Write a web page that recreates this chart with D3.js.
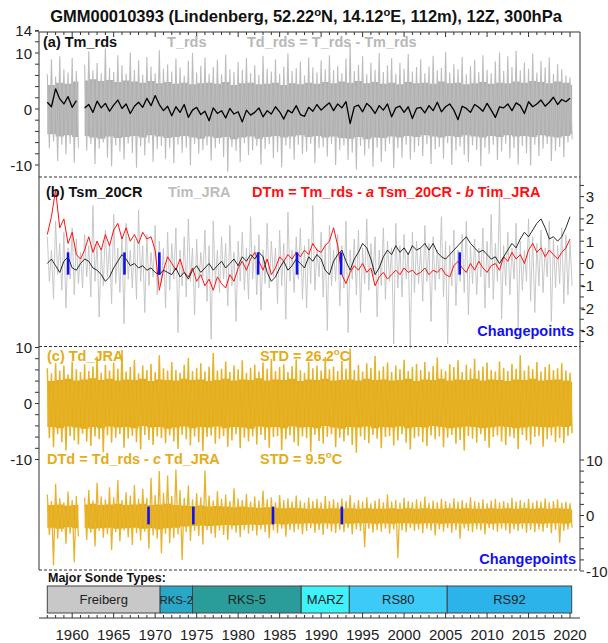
<!DOCTYPE html>
<html>
<head>
<meta charset="utf-8">
<script src="https://cdn.jsdelivr.net/npm/d3@7"></script>
<style>
	body { margin: 0; background: #fff; }
	svg { display: block; font-family: 'Liberation Sans', Arial, Helvetica, sans-serif; }
	.title { font-size: 16.5px; font-weight: bold; fill: #111; }
	.label { font-size: 14.5px; font-weight: bold; }
	.tick-label { font-size: 15px; fill: #222; }
	.frame { stroke: #333; stroke-width: 1; fill: none; }
	.dashed { stroke: #333; stroke-width: 1; stroke-dasharray: 3,2; fill: none; }
</style>
</head>
<body>
<script>
/* Global data: half-year samples start in 1957.0, yearly core values start in 1957. */
const firstYear = 1957;

/* (a) T_rds spike tips and solid core, Tm_rds line. */
const tRdsHi = [
	6.2, 8.9, 5.8, 9.4, 7.1, 6.5, 9.1, 6.8, null, 7.9,
	10.3, 6.9, 8.2, 6.4, 10.8, 7.3, 6.6, 9.6, 7.8, 6.3, 10.1, 7.0, 8.7, 6.1, 9.3, 7.6, 6.4, 10.5, 7.2, 8.0,
	6.7, 9.0, 7.4, 6.0, 8.6, 10.0, 6.5, 7.7, 9.2, 6.3, 7.5, 8.8, 6.2, 9.7, 7.1, 6.6, 8.4, 7.0, 9.1, 6.4,
	7.8, 6.1, 9.5, 7.2, 6.7, 8.9, 6.3, 7.6, 9.9, 6.8, 7.3, 8.5, 6.0, 9.2, 7.4, 6.5, 8.7, 7.1, 9.6, 6.9,
	7.7, 6.4, 9.0, 11.4, 6.8, 7.9, 9.4, 6.2, 8.3, 7.0, 10.0, 6.6, 7.8, 9.1, 6.3, 8.2, 7.2, 9.8, 6.7, 7.5,
	8.9, 6.4, 7.6, 9.5, 6.9, 7.3, 10.2, 6.5, 8.0, 7.1, 9.3, 6.2, 7.7, 8.8, 6.6, 9.6, 7.0, 6.4, 8.5, 10.1,
	6.8, 9.4, 7.5, 10.4, 6.9, 8.3, 7.2, 9.9, 6.5, 8.6, 7.4, 9.2, 6.3, 8.0, 7.1, 6.0, 5.6
];
const tRdsLo = [
	-7.0, -5.8, -9.3, -6.4, -8.1, -6.2, -9.6, -6.9, null, -7.4,
	-6.3, -9.8, -7.1, -6.0, -8.7, -10.2, -6.5, -7.6, -9.0, -6.2, -7.9, -10.5, -6.7, -8.3, -6.1, -9.4, -7.2, -6.6, -8.9, -7.0,
	-9.7, -6.4, -7.8, -6.9, -10.1, -6.3, -8.0, -7.3, -6.5, -9.2, -7.0, -6.2, -8.6, -11.2, -6.8, -7.5, -9.5, -6.1, -8.2, -7.4,
	-6.6, -9.9, -7.2, -6.3, -8.8, -7.7, -10.4, -6.5, -7.1, -9.0, -6.4, -8.1, -7.6, -6.2, -9.7, -7.0, -6.8, -8.5, -6.3, -10.0,
	-7.3, -6.5, -9.1, -7.8, -10.8, -6.6, -8.3, -7.1, -10.3, -6.9, -9.4, -7.5, -6.2, -10.6, -7.0, -8.7, -6.4, -9.0, -7.7, -6.6,
	-8.4, -6.3, -9.8, -7.2, -6.8, -8.9, -6.1, -10.0, -7.4, -6.7, -8.2, -9.5, -6.5, -7.3, -10.2, -6.9, -8.0, -6.4, -9.1, -7.6,
	-6.2, -8.8, -7.0, -9.9, -6.6, -7.9, -10.1, -6.4, -8.4, -7.1, -6.3, -9.3, -7.5, -6.8, -8.6, -6.0, -5.4
];
const tRdsCoreHi = [
	4.3, 4.7, 4.5, 4.9, 5.1, 5.3, 5.0, 5.2, 4.8, 5.1, 4.9, 4.7, 5.0, 4.6, 4.8, 4.5, 4.7, 4.4, 4.6, 4.7,
	4.5, 4.8, 4.3, 4.6, 4.7, 4.4, 4.5, 4.7, 4.3, 4.6, 4.4, 4.7, 4.5, 4.8, 4.6, 4.9, 4.7, 5.0, 4.6, 4.8,
	4.5, 4.7, 4.4, 4.8, 4.6, 4.7, 4.5, 4.9, 4.6, 4.7, 4.4, 4.6, 4.8, 4.5, 4.7, 4.6, 4.9, 4.7, 5.0, 4.8,
	4.6, 4.9, 4.7, 4.3
];
const tRdsCoreLo = [
	-4.5, -4.9, -4.7, -5.0, -4.8, -5.1, -5.3, -4.9, -5.2, -5.0, -4.8, -5.1, -4.7, -4.9, -5.2, -5.0, -4.8, -5.1, -5.3, -4.9,
	-5.2, -5.0, -5.4, -5.1, -4.9, -5.3, -5.0, -4.8, -5.1, -4.9, -4.7, -5.0, -4.8, -5.1, -4.9, -5.2, -5.3, -5.0, -5.4, -5.1,
	-5.2, -4.9, -5.1, -4.8, -5.0, -4.7, -4.9, -5.1, -4.8, -5.0, -4.7, -4.9, -5.1, -4.8, -5.0, -4.7, -4.9, -4.8, -5.0, -4.7,
	-4.9, -5.1, -4.8, -4.5
];
const tmRds = [
	1.2, 0.4, 3.6, 1.8, 0.9, 2.2, 0.3, 1.5, null, 0.2,
	0.8, -0.6, 1.4, 0.2, 1.0, -0.4, 0.7, 1.6, 0.1, 0.9, -0.8, 0.5, 1.2, 0.3, 1.9, 0.6, 2.4, 0.8, -0.3, 0.5,
	-1.2, 0.4, -0.6, 0.8, -1.5, -0.2, 0.3, -1.0, -0.4, -2.1, 0.2, -0.8, -0.3, -1.6, 0.1, -0.9, -0.5, -2.3, -0.2, -1.1,
	-0.6, 0.2, -1.4, -0.3, -0.9, 0.4, -0.5, -1.8, -0.2, -0.7, 0.6, -1.0, -1.3, 0.3, -0.4, 0.8, -0.2, 0.5, 1.1, -0.3,
	0.9, 0.2, 1.3, -2.6, 0.4, 0.7, -0.5, 1.0, 0.3, -0.8, 0.6, -0.2, 0.9, -1.4, 0.2, 0.5, -0.6, 0.4, -1.7, 0.1,
	0.3, -0.7, 0.6, -0.3, 1.2, -0.5, 0.4, 0.9, -0.2, -1.9, 0.5, 0.1, -0.6, 0.8, 0.3, -0.4, 1.0, -0.2, -1.5, 0.4,
	0.2, 0.9, -0.3, 1.1, 0.6, -0.8, 1.3, 0.4, 0.9, 1.6, 0.5, 1.2, 2.1, 0.8, 1.7, 1.3, 1.9
];

/* (b) Tim_JRA spikes, Tsm_20CR and DTm lines, changepoints. */
const timJraHi = [
	1.2, 0.6, 1.9, 0.9, 1.4, 0.7, 1.6, 1.1, 0.5, 1.3,
	0.8, 2.6, 1.0, 0.6, 1.5, 0.9, 2.2, 0.7, 1.2, 1.8, 0.6, 1.1, 2.4, 0.8, 1.3, 0.5, 1.7, 1.0, 0.7, 1.4,
	0.9, 1.6, 0.6, 1.2, 2.0, 0.7, 1.1, 0.5, 1.5, 0.8, 1.9, 0.6, 1.2, 0.9, 1.7, 0.5, 1.0, 1.4, 0.7, 2.1,
	0.8, 1.3, 0.6, 1.8, 1.0, 0.7, 1.5, 0.9, 2.3, 0.6, 1.2, 1.6, 0.8, 1.1, 2.6, 0.7, 1.4, 0.9, 1.7, 0.6,
	1.3, 0.8, 1.9, 0.6, 1.1, 1.5, 0.7, 2.0, 0.9, 1.2, 0.6, 1.6, 1.0, 0.7, 1.8, 0.8, 1.3, 0.5, 1.4, 1.0,
	0.7, 1.7, 0.9, 1.2, 0.6, 2.1, 1.0, 0.8, 1.5, 0.6, 1.3, 1.9, 0.8, 1.1, 0.7, 1.6, 1.0, 2.2, 0.9, 3.1,
	0.8, 1.4, 0.7, 1.8, 1.0, 0.6, 2.0, 1.2, 0.9, 1.5, 0.7, 1.9, 1.1, 0.8, 1.6, 1.3, 1.0
];
const timJraLo = [
	-0.8, -1.6, -0.5, -1.2, -2.0, -0.7, -1.4, -0.9, -1.1, -0.6,
	-1.5, -0.8, -2.4, -1.0, -0.6, -1.8, -0.9, -1.3, -2.7, -0.7, -1.1, -1.6, -0.8, -2.2, -1.0, -0.6, -1.4, -0.9, -2.0, -1.2,
	-0.7, -3.1, -1.0, -1.5, -0.8, -2.3, -1.1, -0.6, -1.7, -3.4, -0.9, -1.3, -0.7, -1.9, -1.0, -2.6, -0.8, -1.2, -1.6, -0.7,
	-1.4, -2.1, -0.9, -1.1, -0.6, -1.8, -1.0, -2.5, -0.8, -1.3, -0.7, -1.6, -2.0, -0.9, -1.2, -0.6, -1.5, -3.0, -1.0, -0.8,
	-1.9, -1.1, -3.1, -0.7, -1.4, -2.2, -0.9, -1.2, -0.6, -2.4, -1.0, -1.6, -0.8, -3.6, -1.1, -1.5, -0.7, -3.8, -1.3, -0.9,
	-1.7, -0.8, -2.6, -1.2, -0.7, -1.5, -3.6, -1.0, -1.9, -0.8, -1.3, -2.3, -0.9, -1.4, -0.6, -2.0, -1.1, -1.6, -0.8, -2.5,
	-1.0, -1.4, -0.7, -2.9, -1.2, -0.8, -1.7, -2.2, -1.0, -1.3, -0.6, -2.6, -1.1, -0.9, -1.8, -1.4, -1.0
];
const tsm20cr = [
	0.0, 0.2, -0.1, -0.4, 0.1, 0.3, -0.2, -0.3, 0.0, 0.2,
	0.1, -0.2, -0.3, -0.5, -0.8, -0.6, -0.2, 0.1, 0.4, 0.2, -0.1, 0.0, -0.2, -0.1, -0.3, -0.2, -0.4, -0.5, -0.3, -0.4,
	-0.5, -0.2, -0.6, -0.4, -0.7, -0.3, -0.1, -0.4, -0.2, 0.0, -0.3, -0.1, 0.1, -0.2, 0.0, 0.2, -0.1, 0.3, 0.1, 0.4,
	0.2, 0.5, 0.3, -0.4, -0.8, -0.6, -0.2, 0.1, -0.3, -0.1, 0.2, 0.0, -0.2, 0.3, 0.1, 0.4, 0.2, -0.3, -0.5, 0.1,
	0.4, 0.6, 0.1, -0.3, 0.2, 0.5, 0.9, 0.7, 0.2, -0.5, -0.2, 0.3, 0.6, 0.4, 0.8, 0.5, 0.7, 0.4, 0.8, 0.6,
	0.7, 0.9, 0.6, 0.9, 0.5, 0.3, 0.2, 0.4, 0.6, 0.8, 1.0, 1.2, 0.9, 0.7, 0.5, 0.6, 0.4, 0.2, 0.3, 0.0,
	0.3, 0.6, 0.9, 0.7, 1.1, 1.4, 1.2, 1.5, 1.8, 2.0, 1.6, 1.1, 1.2, 1.0, 1.2, 1.6, 2.1
];
const dTm = [
	1.3, 2.1, 3.3, 1.6, 2.0, 0.9, 1.4, 0.4, 0.2, 0.6,
	1.2, 0.5, 1.0, 0.6, 1.3, 0.8, 1.5, 1.8, 1.1, 1.6, 1.0, 1.3, 0.9, 1.4, 1.1, 1.2, 0.6, -1.2, -0.3, 0.3,
	0.0, -0.3, 0.2, -0.4, -0.6, -0.2, -0.8, -0.5, -1.0, -0.7, -1.2, -0.6, -0.9, -1.1, -0.5, -0.8, -0.2, 0.1, -0.3, 0.2,
	0.5, 0.1, -0.3, 0.2, -0.5, -0.2, 0.3, 0.1, 0.4, 0.2, 0.5, 0.3, 0.6, 0.4, 0.9, 0.6, 0.5, 0.8, 1.0, 1.6,
	0.8, -0.5, -0.9, -0.4, -0.1, -0.3, 0.0, -0.4, -0.2, -1.0, -0.6, -0.4, -0.7, -0.5, -0.3, -0.5, -0.2, -0.4, -0.3, -0.5,
	-0.4, -0.2, -0.5, -0.3, -0.4, -0.2, -0.5, -0.6, -0.1, 0.1, -0.2, -0.4, 0.0, -0.3, 0.1, -0.2, -0.4, -0.1, 0.0, -0.3,
	0.3, 0.1, 0.5, 0.2, 0.4, 0.0, 0.6, 0.9, 0.5, 0.7, 0.3, 0.6, 0.4, 0.2, 0.5, 0.7, 1.1
];
const changepointsB = [1959.5, 1966.3, 1970.5, 1982.4, 1987.1, 1992.4, 2006.7];

/* (c) Td_JRA and DTd. */
const tdJraHi = [
	6.3, 5.4, 7.2, 5.9, 6.8, 5.2, 7.5, 6.1, 5.6, 7.0,
	5.8, 6.6, 8.4, 5.5, 6.9, 5.9, 7.3, 6.2, 9.6, 5.7, 6.5, 7.8, 5.4, 6.8, 6.0, 7.1, 5.6, 8.6, 6.3, 5.9,
	7.4, 6.0, 5.5, 6.9, 8.1, 5.8, 6.4, 7.2, 5.7, 6.6, 9.0, 5.9, 6.2, 7.5, 5.6, 6.8, 6.1, 7.7, 5.5, 6.4,
	6.9, 5.7, 7.3, 6.2, 8.0, 5.8, 6.5, 7.0, 5.6, 6.7, 7.9, 6.0, 5.5, 7.4, 6.3, 6.8, 5.9, 8.3, 6.1, 6.6,
	5.8, 7.6, 6.2, 9.8, 6.0, 6.9, 5.7, 7.2, 6.4, 8.5, 5.9, 6.6, 7.3, 5.6, 6.8, 6.1, 7.8, 5.8, 6.5, 7.1,
	6.0, 7.4, 5.7, 6.7, 8.2, 6.1, 5.8, 7.0, 6.5, 7.7, 5.6, 6.9, 6.2, 8.0, 5.9, 6.6, 7.3, 6.0, 5.7, 7.5,
	6.4, 5.8, 7.1, 6.2, 8.6, 5.9, 6.8, 6.1, 7.4, 5.7, 6.5, 7.0, 6.0, 6.3, 7.2, 5.9, 5.5
];
const tdJraLo = [
	-6.2, -7.8, -5.5, -6.9, -8.4, -5.8, -6.6, -7.3, -5.4, -6.8,
	-7.6, -5.9, -6.4, -8.7, -5.7, -7.0, -6.1, -5.5, -7.9, -6.3, -5.8, -6.9, -8.2, -5.6, -6.5, -7.4, -5.9, -6.2, -7.1, -5.7,
	-6.8, -8.1, -5.6, -6.4, -7.5, -5.9, -6.9, -8.5, -6.0, -5.7, -7.2, -6.3, -5.8, -7.7, -6.6, -5.5, -8.0, -6.1, -6.8, -5.9,
	-7.3, -5.6, -6.5, -7.9, -6.0, -5.8, -8.3, -6.4, -5.7, -6.9, -7.6, -5.9, -6.2, -8.6, -5.6, -6.7, -7.2, -6.0, -5.5, -7.8,
	-6.1, -6.8, -5.7, -7.4, -8.8, -5.9, -6.5, -7.1, -5.6, -6.3, -8.0, -6.0, -5.8, -7.5, -6.6, -5.5, -7.0, -8.2, -6.2, -5.9,
	-6.9, -7.6, -5.7, -6.4, -5.9, -7.8, -6.1, -5.6, -7.2, -6.5, -8.4, -5.8, -6.3, -7.0, -5.5, -6.7, -7.9, -6.0, -5.7, -6.8,
	-7.4, -5.9, -6.2, -8.1, -5.6, -6.6, -7.3, -6.0, -5.8, -7.7, -6.4, -5.7, -6.9, -6.2, -7.1, -5.8, -5.3
];
const tdJraCoreHi = [
	4.0, 4.2, 4.4, 4.1, 4.3, 4.5, 4.2, 4.4, 4.1, 4.3, 4.2, 4.4, 4.0, 4.3, 4.2, 4.1, 4.4, 4.2, 4.3, 4.0,
	4.2, 4.4, 4.1, 4.3, 4.2, 4.5, 4.1, 4.3, 4.2, 4.4, 4.0, 4.3, 4.2, 4.4, 4.1, 4.2, 4.3, 4.1, 4.4, 4.2,
	4.3, 4.1, 4.2, 4.4, 4.0, 4.3, 4.2, 4.4, 4.1, 4.3, 4.2, 4.4, 4.1, 4.3, 4.2, 4.0, 4.3, 4.2, 4.4, 4.1,
	4.2, 4.3, 4.1, 3.9
];
const tdJraCoreLo = [
	-4.2, -4.4, -4.1, -4.3, -4.5, -4.2, -4.4, -4.1, -4.3, -4.2, -4.4, -4.0, -4.3, -4.2, -4.5, -4.3, -4.1, -4.4, -4.2, -4.3,
	-4.1, -4.4, -4.2, -4.3, -4.5, -4.1, -4.3, -4.2, -4.4, -4.1, -4.3, -4.2, -4.4, -4.0, -4.3, -4.5, -4.2, -4.3, -4.1, -4.4,
	-4.2, -4.3, -4.1, -4.4, -4.2, -4.3, -4.0, -4.2, -4.4, -4.3, -4.1, -4.2, -4.4, -4.3, -4.1, -4.2, -4.4, -4.3, -4.1, -4.2,
	-4.3, -4.1, -4.2, -4.0
];
const dTdHi = [
	3.8, 2.6, 5.7, 3.1, 2.4, 4.3, 2.8, 3.5, null, 3.2,
	4.6, 2.7, 5.9, 3.4, 2.9, 5.1, 3.3, 6.4, 2.8, 4.2, 3.6, 5.5, 3.0, 4.8, 3.2, 6.8, 3.7, 8.0, 4.1, 7.2,
	3.5, 8.3, 4.6, 3.2, 5.4, 2.9, 4.0, 3.3, 8.1, 3.6, 2.7, 4.4, 3.0, 3.8, 2.6, 4.9, 3.1, 2.8, 3.9, 2.5,
	3.4, 2.7, 4.5, 2.9, 3.3, 2.4, 3.7, 2.8, 3.1, 2.5, 3.6, 2.7, 2.3, 3.2, 2.6, 3.0, 2.4, 3.5, 2.6, 2.9,
	2.4, 3.1, 2.6, 3.7, 2.3, 2.8, 2.5, 3.3, 2.2, 2.7, 3.0, 2.4, 3.8, 2.5, 2.8, 2.3, 3.2, 2.6, 2.4, 2.9,
	2.5, 3.4, 2.3, 2.7, 2.4, 3.0, 2.6, 2.2, 3.1, 2.5, 2.8, 2.3, 3.3, 2.6, 2.4, 2.9, 2.2, 2.7, 3.0, 2.4,
	2.6, 2.3, 3.2, 2.5, 2.8, 2.4, 3.0, 2.3, 2.7, 2.5, 3.1, 2.4, 2.6, 2.9, 2.3, 2.5, 2.2
];
const dTdLo = [
	-3.5, -9.0, -4.2, -2.9, -5.1, -3.3, -8.4, -3.8, null, -4.4,
	-3.1, -5.6, -2.8, -4.0, -3.4, -6.2, -3.0, -4.7, -2.7, -3.9, -5.3, -3.2, -4.5, -2.9, -6.0, -3.6, -4.2, -6.8, -3.3, -5.0,
	-4.1, -3.4, -8.0, -3.0, -4.6, -2.8, -3.7, -5.2, -2.6, -3.3, -4.0, -2.7, -3.5, -4.4, -2.5, -3.1, -3.9, -2.6, -3.3, -2.8,
	-3.6, -2.5, -3.0, -4.1, -2.7, -3.2, -2.4, -3.8, -2.6, -3.0, -2.5, -3.4, -2.8, -2.3, -3.1, -2.6, -3.5, -2.4, -2.9, -3.2,
	-2.6, -3.0, -2.3, -3.4, -2.5, -2.8, -5.7, -2.4, -3.1, -2.6, -2.9, -2.4, -3.3, -2.5, -7.7, -2.7, -3.0, -2.3, -2.8, -2.5,
	-3.2, -2.4, -2.7, -3.6, -2.5, -2.9, -2.3, -3.1, -2.6, -4.2, -2.4, -2.8, -3.0, -2.5, -2.7, -3.4, -2.3, -2.6, -2.9, -2.4,
	-2.7, -3.3, -2.5, -2.8, -2.4, -3.1, -2.6, -3.0, -2.5, -2.9, -2.3, -3.2, -2.6, -4.9, -2.8, -2.5, -2.2
];
const dTdCoreHi = [
	1.9, 2.0, 1.8, 1.9, 2.0, 2.1, 1.9, 2.0, 2.1, 1.9, 2.0, 2.1, 1.9, 2.0, 2.1, 1.9, 1.8, 1.7, 1.8, 1.6,
	1.7, 1.6, 1.5, 1.6, 1.5, 1.4, 1.5, 1.4, 1.3, 1.4, 1.3, 1.2, 1.3, 1.2, 1.3, 1.2, 1.3, 1.2, 1.3, 1.2,
	1.2, 1.3, 1.2, 1.3, 1.2, 1.3, 1.2, 1.2, 1.3, 1.2, 1.3, 1.2, 1.2, 1.3, 1.2, 1.3, 1.2, 1.3, 1.2, 1.3,
	1.2, 1.3, 1.2, 1.1
];
const dTdCoreLo = [
	-2.2, -2.4, -2.1, -2.3, -2.2, -2.4, -2.3, -2.2, -2.4, -2.3, -2.2, -2.4, -2.3, -2.5, -2.3, -2.2, -2.0, -1.9, -1.8, -1.9,
	-1.8, -1.7, -1.8, -1.7, -1.6, -1.7, -1.6, -1.5, -1.6, -1.5, -1.5, -1.4, -1.5, -1.4, -1.5, -1.4, -1.5, -1.4, -1.4, -1.5,
	-1.4, -1.5, -1.4, -1.4, -1.5, -1.4, -1.4, -1.5, -1.4, -1.4, -1.5, -1.4, -1.4, -1.5, -1.4, -1.4, -1.5, -1.4, -1.4, -1.5,
	-1.4, -1.4, -1.5, -1.3
];
const changepointsD = [1969.2, 1974.6, 1984.2, 1992.5];

/* Sonde types. */
const sondeNames = ['Freiberg', 'RKS-2', 'RKS-5', 'MARZ', 'RS80', 'RS92'];
const sondeStart = [1957.0, 1970.6, 1974.5, 1987.6, 1993.4, 2005.2];
const sondeEnd = [1970.6, 1974.5, 1987.6, 1993.4, 2005.2, 2020.2];
const sondeColors = ['#c8c8c8', '#2aa6c6', '#2a9d9a', '#3ef2fa', '#3dcaf6', '#2bb3ea'];

const yearTicks = d3.range(1960, 2021, 5);

/* Layout. */
const width = 608;
const height = 643;
const xScale = d3.scaleLinear().domain([1956, 2021.2]).range([39, 580]);
const yA = d3.scaleLinear().domain([-10, 10]).range([165, 53]);
const yB = d3.scaleLinear().domain([-3, 3]).range([330.4, 196.6]);
const yC = d3.scaleLinear().domain([-10, 10]).range([459.5, 347.5]);
const yD = d3.scaleLinear().domain([-10, 10]).range([571, 460]);

const gold = '#e4ad17';
const blue = '#1010f0';

let svg;

/**
 * Returns the time of a half-year sample.
 */
function sampleTime(index) {
	return firstYear + index * 0.5;
}

/**
 * Draws a dense daily series as a solid core plus a zigzag of spike tips.
 */
function drawDense(yScale, hi, lo, coreHi, coreLo, color, spikeColor, spikeWidth) {
	let core = [];
	hi.forEach(function(h, i) {
		if (h === null) {
			core.push(null);
			return;
		}
		let t = sampleTime(i);
		let k = Math.floor(t) - firstYear;
		core.push({ t: t, hi: coreHi[k], lo: coreLo[k] });
		if (i === hi.length - 1 || hi[i + 1] === null) {
			core.push({ t: t + 0.25, hi: coreHi[k], lo: coreLo[k] });
		}
	});
	let area = d3.area()
		.defined(function(d) { return d !== null; })
		.curve(d3.curveStepAfter)
		.x(function(d) { return xScale(d.t); })
		.y0(function(d) { return yScale(d.lo); })
		.y1(function(d) { return yScale(d.hi); });
	svg.append('path')
		.attr('d', area(core))
		.attr('fill', color);

	let points = [];
	hi.forEach(function(h, i) {
		points.push([sampleTime(i), h]);
		points.push([sampleTime(i) + 0.25, lo[i]]);
	});
	let line = d3.line()
		.defined(function(d) { return d[1] !== null; })
		.x(function(d) { return xScale(d[0]); })
		.y(function(d) { return yScale(d[1]); });
	svg.append('path')
		.attr('d', line(points))
		.attr('fill', 'none')
		.attr('stroke', spikeColor)
		.attr('stroke-width', spikeWidth);
}

/**
 * Draws a line from half-year samples.
 */
function drawLine(yScale, values, color, strokeWidth) {
	let line = d3.line()
		.defined(function(d) { return d !== null; })
		.x(function(_, i) { return xScale(sampleTime(i)); })
		.y(function(d) { return yScale(d); });
	svg.append('path')
		.attr('d', line(values))
		.attr('fill', 'none')
		.attr('stroke', color)
		.attr('stroke-width', strokeWidth)
		.attr('stroke-linejoin', 'round');
}

/**
 * Draws blue changepoint markers.
 */
function drawChangepoints(yScale, years, half) {
	svg.selectAll(null)
			.data(years)
		.enter().append('line')
			.attr('x1', function(d) { return xScale(d); })
			.attr('x2', function(d) { return xScale(d); })
			.attr('y1', yScale(half))
			.attr('y2', yScale(-half))
			.attr('stroke', blue)
			.attr('stroke-width', 2.6);
}

/**
 * Adds a text made of parts (italic or superscript).
 */
function addText(x, y, parts, color, cls, anchor) {
	let text = svg.append('text')
		.attr('class', cls)
		.attr('x', x)
		.attr('y', y)
		.attr('fill', color)
		.attr('text-anchor', anchor || 'start');
	let shift = 0;
	for (let part of parts) {
		let span = text.append('tspan');
		if (shift !== 0) {
			span.attr('dy', shift);
			shift = 0;
		}
		if (typeof part === 'string') {
			span.text(part);
		} else if (part.sup) {
			span.attr('dy', -6).attr('font-size', '0.68em').text(part.sup);
			shift = 6;
		} else if (part.it) {
			span.attr('font-style', 'italic').text(part.it);
		}
	}
	return text;
}

/**
 * Draws a vertical axis with ticks pointing out of the frame.
 */
function drawYAxis(yScale, tickValues, labels, side, labelAnchor, labelX) {
	let x0 = side === 'left' ? 39 : 580;
	let dir = side === 'left' ? -1 : 1;
	svg.selectAll(null)
			.data(tickValues)
		.enter().append('line')
			.attr('x1', x0)
			.attr('x2', x0 + dir * 4)
			.attr('y1', function(d) { return yScale(d); })
			.attr('y2', function(d) { return yScale(d); })
			.attr('stroke', '#333');
	svg.selectAll(null)
			.data(labels)
		.enter().append('text')
			.attr('class', 'tick-label')
			.attr('x', labelX)
			.attr('y', function(d) { return yScale(d) + 5.5; })
			.attr('text-anchor', labelAnchor)
			.text(function(d) { return d; });
}

/**
 * Draws the whole figure.
 */
function main() {
	svg = d3.select('body').append('svg')
		.attr('width', width)
		.attr('height', height);

	/* Title. */
	addText(306, 22, ['GMM00010393 (Lindenberg, 52.22', { sup: 'o' }, 'N, 14.12', { sup: 'o' }, 'E, 112m), 12Z, 300hPa'],
		'#111', 'title', 'middle');

	/* Panel (a). */
	drawDense(yA, tRdsHi, tRdsLo, tRdsCoreHi, tRdsCoreLo, '#b0b0b0', '#bcbcbc', 1.1);
	drawLine(yA, tmRds, '#000', 1.3);

	/* Panel (b). */
	let points = [];
	timJraHi.forEach(function(h, i) {
		points.push([sampleTime(i), h]);
		points.push([sampleTime(i) + 0.25, timJraLo[i]]);
	});
	svg.append('path')
		.attr('d', d3.line()
			.x(function(d) { return xScale(d[0]); })
			.y(function(d) { return yB(d[1]); })(points))
		.attr('fill', 'none')
		.attr('stroke', '#c2c2c2')
		.attr('stroke-width', 0.9);
	drawLine(yB, dTm, '#ff1010', 1);
	drawLine(yB, tsm20cr, '#111', 0.9);
	drawChangepoints(yB, changepointsB, 0.5);

	/* Panels (c) and DTd. */
	drawDense(yC, tdJraHi, tdJraLo, tdJraCoreHi, tdJraCoreLo, gold, '#e6b228', 1.5);
	drawDense(yD, dTdHi, dTdLo, dTdCoreHi, dTdCoreLo, gold, '#e8b430', 1.3);
	drawChangepoints(yD, changepointsD, 1.6);

	/* Frame and separators. */
	svg.append('line').attr('class', 'frame').attr('x1', 39).attr('x2', 580).attr('y1', 32).attr('y2', 32);
	svg.append('line').attr('class', 'frame').attr('x1', 39).attr('x2', 39).attr('y1', 32).attr('y2', 570);
	svg.append('line').attr('class', 'frame').attr('x1', 580).attr('x2', 580).attr('y1', 32).attr('y2', 570);
	for (let yy of [177, 346.5, 570]) {
		svg.append('line').attr('class', 'dashed').attr('x1', 39).attr('x2', 580).attr('y1', yy).attr('y2', yy);
	}

	/* Yearly ticks along the top. */
	svg.selectAll(null)
			.data(d3.range(1957, 2021))
		.enter().append('line')
			.attr('x1', function(d) { return xScale(d); })
			.attr('x2', function(d) { return xScale(d); })
			.attr('y1', 32)
			.attr('y2', function(d) { return d % 5 === 0 ? 37 : 35; })
			.attr('stroke', '#333');

	/* Vertical axes. */
	drawYAxis(yA, d3.range(-10, 14.1, 2).concat([13.9]), [14, 10, 0, -10], 'left', 'end', 32);
	drawYAxis(yB, d3.range(-3.5, 3.6, 0.5), [3, 2, 1, 0, -1, -2, -3], 'right', 'end', 594);
	drawYAxis(yC, d3.range(-10, 10.1, 2), [10, 0, -10], 'left', 'end', 32);
	drawYAxis(yD, d3.range(-10, 10.1, 2), [10, 0, -10], 'right', 'start', 586);

	/* Panel texts. */
	addText(43, 47, ['(a) Tm_rds'], '#111', 'label');
	addText(167, 47, ['T_rds'], '#b8b8b8', 'label');
	addText(247, 47, ['Td_rds = T_rds - Tm_rds'], '#b8b8b8', 'label');
	addText(46, 197, ['(b) Tsm_20CR'], '#111', 'label');
	addText(168, 197, ['Tim_JRA'], '#bdbdbd', 'label');
	addText(252, 197, ['DTm = Tm_rds - ', { it: 'a' }, ' Tsm_20CR - ', { it: 'b' }, ' Tim_JRA'], '#ff1010', 'label');
	addText(574, 336, ['Changepoints'], blue, 'label', 'end');
	addText(47, 361, ['(c) Td_JRA'], gold, 'label');
	addText(260, 361, ['STD = 26.2', { sup: 'o' }, 'C'], gold, 'label');
	addText(47, 464, ['DTd = Td_rds - ', { it: 'c' }, ' Td_JRA'], gold, 'label');
	addText(260, 464, ['STD = 9.5', { sup: 'o' }, 'C'], gold, 'label');
	addText(576, 564, ['Changepoints'], blue, 'label', 'end');

	/* Sonde types. */
	addText(48, 582, ['Major Sonde Types:'], '#111', 'label').style('font-size', '12.5px');
	svg.selectAll(null)
			.data(sondeNames)
		.enter().append('rect')
			.attr('x', function(_, i) { return xScale(sondeStart[i]); })
			.attr('width', function(_, i) { return xScale(sondeEnd[i]) - xScale(sondeStart[i]); })
			.attr('y', 586)
			.attr('height', 27)
			.attr('fill', function(_, i) { return sondeColors[i]; })
			.attr('stroke', '#444')
			.attr('stroke-width', 1);
	svg.selectAll(null)
			.data(sondeNames)
		.enter().append('text')
			.attr('x', function(_, i) { return (xScale(sondeStart[i]) + xScale(sondeEnd[i])) / 2; })
			.attr('y', 604)
			.attr('text-anchor', 'middle')
			.style('font-size', function(d) { return d === 'RKS-2' ? '11.5px' : '13px'; })
			.attr('fill', '#222')
			.text(function(d) { return d; });

	/* Year axis. */
	svg.append('line').attr('class', 'frame').attr('x1', 39).attr('x2', 580).attr('y1', 618).attr('y2', 618);
	svg.selectAll(null)
			.data(d3.range(1957, 2021))
		.enter().append('line')
			.attr('x1', function(d) { return xScale(d); })
			.attr('x2', function(d) { return xScale(d); })
			.attr('y1', 618)
			.attr('y2', function(d) { return d % 5 === 0 ? 613 : 615; })
			.attr('stroke', '#333');
	svg.selectAll(null)
			.data(yearTicks)
		.enter().append('text')
			.attr('class', 'tick-label')
			.attr('x', function(d) { return xScale(d); })
			.attr('y', 640)
			.attr('text-anchor', 'middle')
			.text(function(d) { return d; });
}

window.onload = function() {
	main();
};
</script>
</body>
</html>
